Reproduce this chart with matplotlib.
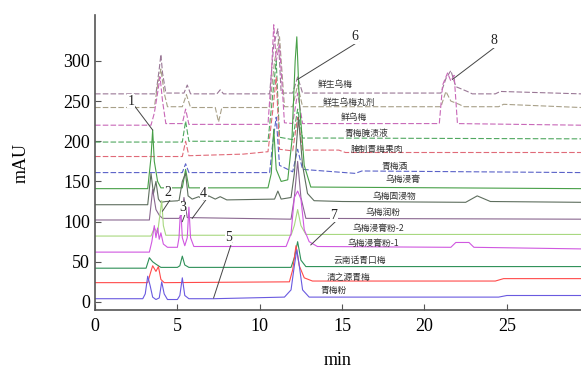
import numpy as np
import matplotlib
matplotlib.use('Agg')
import matplotlib.pyplot as plt

plt.rcParams['font.family'] = ['Liberation Serif', 'DejaVu Serif']

# sample names, top to bottom
names = ['鲜生乌梅', '鲜生乌梅丸剂', '鲜乌梅', '青梅腌渍液', '腌制青梅果肉', '青梅酒', '乌梅浸膏',
         '乌梅固浸物', '乌梅润粉', '乌梅浸膏粉-2', '乌梅浸膏粉-1', '云南话青口梅', '清之源青梅', '青梅粉']

# traces: retention time (min) / signal (mAU)
t01 = [0, 3.7, 3.9, 4.0, 4.1, 4.3, 5.4, 5.6, 5.8, 7.4, 7.6, 7.8, 10.6, 10.85, 11.1, 11.3, 12.0, 12.3, 12.6,
       21.0, 21.3, 21.6, 21.9, 22.6, 22.9, 24.3, 24.6, 29.5]
v01 = [259, 259, 290, 308, 285, 260, 260, 270, 259, 259, 264, 259, 259, 320, 340, 260, 260, 280, 260,
       260, 278, 288, 268, 262, 259, 259, 262, 259]
t02 = [0, 3.6, 3.8, 4.0, 4.2, 4.4, 5.3, 5.55, 5.8, 7.3, 7.5, 7.7, 10.6, 10.9, 11.2, 11.5, 12.0, 12.3, 12.6,
       21.0, 21.3, 21.6, 22.1, 22.4, 24.5, 24.8, 29.5]
v02 = [242, 242, 270, 290, 260, 243, 243, 258, 242, 242, 224, 242, 242, 300, 330, 243, 243, 270, 243,
       243, 262, 250, 246, 243, 243, 246, 242]
t03 = [0, 3.4, 3.6, 3.8, 3.95, 4.1, 4.3, 5.3, 5.5, 5.7, 10.5, 10.7, 10.85, 11.0, 11.2, 11.5, 12.0, 12.3, 12.6,
       20.9, 21.1, 21.4, 21.6, 21.8, 22.0, 29.5]
v03 = [220, 220, 235, 260, 280, 250, 222, 222, 240, 221, 221, 280, 345, 300, 320, 223, 222, 260, 222,
       222, 270, 285, 275, 282, 222, 220]
t04 = [0, 5.3, 5.5, 5.7, 10.5, 10.8, 11.0, 11.2, 12.0, 12.3, 12.6, 14.0, 29.5]
v04 = [199, 199, 225, 200, 200, 260, 300, 205, 202, 240, 204, 204, 203]
t05 = [0, 5.3, 5.5, 5.7, 9.0, 10.5, 10.8, 11.0, 11.2, 12.0, 12.3, 12.6, 14.8, 15.2, 29.5]
v05 = [181, 181, 200, 182, 184, 187, 240, 280, 190, 188, 230, 189, 189, 186, 186]
t06 = [0, 5.3, 5.5, 5.7, 10.6, 10.8, 11.0, 11.2, 12.0, 12.3, 12.6, 15.8, 16.2, 29.5]
v06 = [161, 161, 172, 161, 161, 200, 230, 170, 162, 190, 165, 160, 163, 161]
t07 = [0, 3.2, 3.4, 3.5, 3.6, 3.8, 4.0, 5.3, 5.5, 5.7, 10.5, 10.7, 10.85, 11.0, 11.3, 11.7, 11.95, 12.15,
       12.25, 12.4, 12.7, 13.1, 29.5]
v07 = [141, 141, 180, 214, 175, 150, 142, 142, 165, 142, 142, 160, 215, 165, 150, 152, 200, 300,
       330, 250, 170, 143, 141]
t08 = [0, 3.2, 3.4, 3.55, 3.7, 3.85, 4.0, 4.3, 5.1, 5.3, 5.5, 5.65, 5.9, 6.3, 6.6, 6.9, 7.3, 7.6, 8.0,
       10.9, 11.1, 11.3, 11.9, 12.1, 12.35, 12.6, 12.9, 13.3, 15, 22.5, 23.2, 24.0, 29.5]
v08 = [121, 121, 160, 135, 150, 128, 124, 125, 126, 150, 160, 132, 128, 131, 127, 132, 128, 131, 127,
       128, 138, 128, 130, 160, 230, 170, 135, 126, 125, 124, 132, 125, 124]
t09 = [0, 3.3, 3.5, 3.7, 3.9, 4.1, 5.1, 5.25, 5.4, 5.6, 11.9, 12.1, 12.3, 12.5, 12.8, 29.5]
v09 = [102, 102, 140, 115, 108, 104, 104, 108, 130, 105, 103, 130, 175, 130, 104, 103]
t10 = [0, 3.4, 3.6, 3.8, 3.95, 4.05, 4.15, 4.3, 11.9, 12.1, 12.3, 12.5, 12.8, 29.5]
v10 = [82, 82, 92, 86, 110, 126, 95, 83, 83, 95, 115, 95, 84, 84]
t11 = [0, 3.3, 3.45, 3.6, 3.7, 3.8, 3.9, 4.0, 4.15, 4.4, 5.0, 5.1, 5.2, 5.3, 5.45, 5.6, 5.7, 5.8, 6.0,
       11.6, 11.9, 12.1, 12.3, 12.5, 12.7, 13.0, 13.5, 21.6, 21.9, 22.7, 23.0, 29.5]
v11 = [62, 62, 75, 95, 80, 92, 78, 86, 72, 68, 68, 80, 118, 80, 70, 80, 118, 80, 69,
       69, 85, 130, 138, 128, 90, 75, 69, 68, 74, 74, 68, 66]
t12 = [0, 3.1, 3.3, 3.5, 3.7, 4.0, 5.0, 5.15, 5.3, 5.45, 5.7, 11.9, 12.1, 12.3, 12.5, 12.8, 29.5]
v12 = [42, 42, 55, 50, 47, 43, 43, 45, 57, 46, 43, 43, 55, 75, 52, 44, 44]
t13 = [0, 3.2, 3.35, 3.5, 3.7, 3.85, 4.0, 4.2, 11.8, 12.0, 12.2, 12.4, 12.7, 13.2, 24.3, 24.8, 29.5]
v13 = [24, 24, 35, 45, 38, 44, 28, 24, 25, 40, 70, 45, 30, 26, 26, 29, 29]
t14 = [0, 2.9, 3.05, 3.2, 3.35, 3.5, 3.7, 3.9, 4.05, 4.2, 4.4, 5.0, 5.15, 5.3, 5.45, 5.7, 7.2, 11.5, 11.9,
       12.1, 12.25, 12.4, 12.6, 13.0, 14, 24.5, 25.0, 29.5]
v14 = [4, 4, 10, 32, 20, 6, 3, 5, 25, 10, 3, 3, 8, 30, 8, 4, 4, 6, 15,
       45, 65, 45, 15, 6, 6, 6, 8, 8]

times = [t01, t02, t03, t04, t05, t06, t07, t08, t09, t10, t11, t12, t13, t14]
signals = [v01, v02, v03, v04, v05, v06, v07, v08, v09, v10, v11, v12, v13, v14]

colors = ['#9a7896', '#a8a088', '#c868b8', '#50a860', '#e06a78', '#5a62c8', '#48a048',
          '#5e6e5e', '#8a6890', '#a8d880', '#d058e0', '#2e9058', '#ff4a4a', '#6a5ae0']
dashed = [True] * 6 + [False] * 8

# where the sample names sit (min, mAU)
name_t = [14.6, 15.4, 15.7, 16.5, 17.1, 18.2, 18.7, 18.2, 17.5, 17.2, 16.9, 16.1, 15.4, 14.5]
name_v = [271, 249, 229, 210, 190, 168, 152, 131, 111, 92, 73, 52, 31, 14]

# peak numbers: label position and where the leader line ends
peak_ids = ['1', '2', '3', '4', '5', '6', '7', '8']
lab_t = [2.2, 4.45, 5.3, 6.6, 8.1, 15.8, 14.5, 24.2]
lab_v = [250, 136, 117, 135, 80, 330, 108, 325]
tip_t = [3.5, 4.1, 5.3, 5.9, 7.2, 12.3, 13.1, 21.7]
tip_v = [214, 113, 100, 104, 5, 277, 71, 277]

fig = plt.figure(figsize=(5.81, 3.69), dpi=100)
ax = fig.add_axes([0.1635, 0.16, 0.8365, 0.799])

for i in range(len(names)):
    ls = (0, (5, 2)) if dashed[i] else '-'
    ax.plot(times[i], signals[i], color=colors[i], lw=0.8, ls=ls)
    ax.text(name_t[i], name_v[i], names[i], fontsize=6.3, ha='center', va='center',
            family=['Noto Sans CJK SC', 'DejaVu Sans'], color='#333333')

for i in range(len(peak_ids)):
    ax.plot([lab_t[i] + 0.2, tip_t[i]], [lab_v[i] - 6, tip_v[i]], color='#444444', lw=0.7)
    ax.text(lab_t[i], lab_v[i], peak_ids[i], fontsize=10, ha='center', va='center', color='#222222',
            bbox=dict(facecolor='white', edgecolor='none', pad=0.3))

ax.set_xlim(0, 29.5)
ax.set_ylim(-10, 357)
ax.set_xticks([0, 5, 10, 15, 20, 25])
ax.set_yticks([0, 50, 100, 150, 200, 250, 300])
ax.tick_params(direction='in', labelsize=13, length=4, color='#555555')
ax.tick_params(axis='x', pad=6)
ax.spines['top'].set_visible(False)
ax.spines['right'].set_visible(False)
for s in ['left', 'bottom']:
    ax.spines[s].set_color('#555555')
    ax.spines[s].set_linewidth(1.2)
ax.set_xlabel('min', fontsize=13, labelpad=12)
ax.set_ylabel('mAU', fontsize=13, labelpad=24)

plt.savefig('out.png', dpi=100)
